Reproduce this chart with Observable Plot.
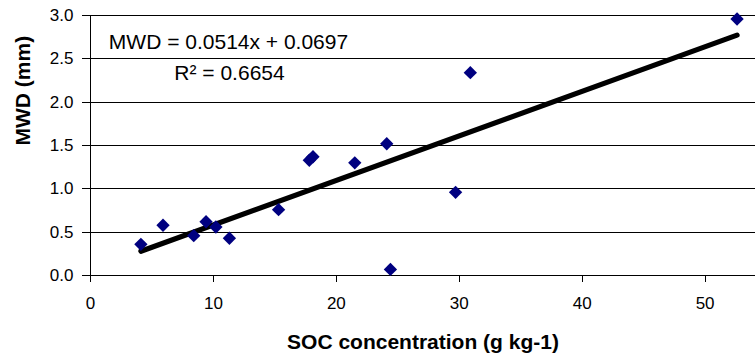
<!DOCTYPE html>
<html>
<head>
<meta charset="utf-8">
<script src="https://cdn.jsdelivr.net/npm/d3@7"></script>
<script src="https://cdn.jsdelivr.net/npm/@observablehq/plot@0.6"></script>
<style>
  html, body { margin: 0; padding: 0; background: #fff; }
  #chart svg { display: block; font-family: "Liberation Sans", Arial, sans-serif; }
</style>
</head>
<body>
<div id="chart"></div>
<script>
// SOC concentration (g kg-1)
const soc = [4.1, 5.9, 8.4, 9.4, 10.2, 11.3, 15.3, 17.8, 18.1, 21.5, 24.1, 24.4, 29.7, 30.9, 52.6];
// MWD (mm)
const mwd = [0.36, 0.58, 0.46, 0.62, 0.56, 0.43, 0.76, 1.33, 1.37, 1.30, 1.52, 0.07, 0.96, 2.34, 2.96];
// Linear trend (as printed on the chart)
const slope = [0.0514];
const intercept = [0.0697];
const rSquared = [0.6654];
const xTicks = [0, 10, 20, 30, 40, 50];
const yTicks = [0, 0.5, 1.0, 1.5, 2.0, 2.5, 3.0];
const xTitle = "SOC concentration (g kg-1)";
const yTitle = "MWD (mm)";

const points = soc.map((s, i) => ({soc: s, mwd: mwd[i]}));
const xMin = d3.min(soc), xMax = d3.max(soc);
const trend = [xMin, xMax].map(x => ({soc: x, mwd: slope[0] * x + intercept[0]}));
const eqText = `MWD = ${slope[0]}x + ${intercept[0]}`;
const r2Text = `R² = ${rSquared[0]}`;

const chart = Plot.plot({
  width: 755,
  height: 356,
  marginLeft: 90,
  marginRight: 0,
  marginTop: 15,
  marginBottom: 81,
  style: {fontFamily: "'Liberation Sans', Arial, sans-serif", background: "#fff", color: "#000"},
  x: {domain: [0, 54.1], ticks: xTicks, label: null},
  y: {domain: [0, 3], ticks: yTicks, label: null},
  marks: [
    Plot.ruleY(yTicks, {stroke: "#000", strokeWidth: 1, shapeRendering: "crispEdges"}),
    Plot.ruleX([0], {stroke: "#000", strokeWidth: 1, shapeRendering: "crispEdges"}),
    Plot.axisX({ticks: xTicks, tickSize: 7, tickPadding: 14, fontSize: 17, tickFormat: d3.format("d"), label: null, stroke: "#000", shapeRendering: "crispEdges"}),
    Plot.axisY({ticks: yTicks, tickSize: 8, tickPadding: 9, fontSize: 17, tickFormat: d3.format(".1f"), label: null, stroke: "#000", shapeRendering: "crispEdges"}),
    Plot.line(trend, {x: "soc", y: "mwd", stroke: "#000", strokeWidth: 5.2}),
    Plot.dot(points, {x: "soc", y: "mwd", symbol: "diamond2", r: 6, fill: "#000080", stroke: "none"}),
    Plot.text([eqText], {frameAnchor: "top-left", dx: 138, dy: 27, text: d => d, fontSize: 21, textAnchor: "middle", lineAnchor: "middle", fill: "#000"}),
    Plot.text([r2Text], {frameAnchor: "top-left", dx: 139, dy: 58, text: d => d, fontSize: 21, textAnchor: "middle", lineAnchor: "middle", fill: "#000"}),
    Plot.text([xTitle], {frameAnchor: "bottom", dy: 73, text: d => d, fontSize: 21, fontWeight: "bold", lineAnchor: "bottom", fill: "#000"}),
    Plot.text([yTitle], {frameAnchor: "left", dx: -61, text: d => d, rotate: -90, fontSize: 21, fontWeight: "bold", lineAnchor: "bottom", fill: "#000"})
  ]
});
document.getElementById("chart").appendChild(chart);
</script>
</body>
</html>
